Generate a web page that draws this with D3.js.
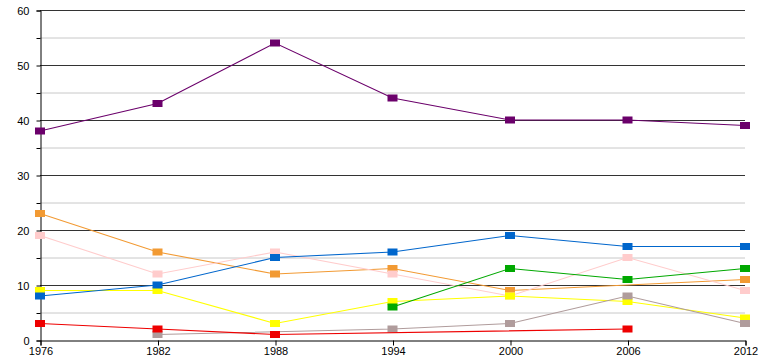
<!DOCTYPE html>
<html><head><meta charset="utf-8">
<script src="https://cdn.jsdelivr.net/npm/d3@7"></script>
<style>body{margin:0;background:#fff}svg{display:block}text{font-family:"Liberation Sans",Arial,sans-serif;font-size:11px;fill:#000}</style>
</head><body><svg id="c" width="760" height="360"></svg>
<script>
const years = ["1976","1982","1988","1994","2000","2006","2012"];
const yTicks = [0,10,20,30,40,50,60];
const purple = [38,43,54,44,40,40,39];
const orange = [23,16,12,13,9,null,11];
const pink   = [19,12,16,12,8,15,9];
const yellow = [9,9,3,7,8,7,4];
const blue   = [8,10,15,16,19,17,17];
const green  = [null,null,null,6,13,11,13];
const gray   = [null,1,null,2,3,8,3];
const red    = [3,2,1,null,null,2,null];
const seriesList = [
  {v:purple,c:"#6b006b"},
  {v:orange,c:"#f29a33"},
  {v:pink,c:"#ffcccc"},
  {v:yellow,c:"#ffff00"},
  {v:blue,c:"#0066cc"},
  {v:green,c:"#00a800"},
  {v:gray,c:"#b09c9c"},
  {v:red,c:"#ee0000"}
];
const svg = d3.select("#c");
const x = d3.scalePoint().domain(years).range([40,745]);
const y = d3.scaleLinear().domain([0,60]).range([340,10]);
// grid
const minor = d3.range(5,60,10);
svg.append("g").selectAll("line").data(minor).join("line")
  .attr("x1",40).attr("x2",745).attr("y1",d=>y(d)+0.5).attr("y2",d=>y(d)+0.5)
  .attr("stroke","#c8c8c8").attr("stroke-width",1);
svg.append("g").selectAll("line").data(yTicks.filter(d=>d>0)).join("line")
  .attr("x1",40).attr("x2",745).attr("y1",d=>y(d)+0.5).attr("y2",d=>y(d)+0.5)
  .attr("stroke","#333").attr("stroke-width",1);
// axes
const ya = svg.append("g").attr("transform","translate(40.5,0.5)")
  .call(d3.axisLeft(y).tickValues(d3.range(0,61,5)).tickSize(4).tickFormat(d=>d%10===0?d:""));
ya.select(".domain").attr("stroke","#000");
ya.selectAll(".tick text").attr("dx","-4");
const xa = svg.append("g").attr("transform","translate(0.5,340.5)")
  .call(d3.axisBottom(x).tickSize(5).tickPadding(2));
xa.select(".domain").attr("stroke","#000");
svg.selectAll(".tick text").style("font-family","Liberation Sans,Arial,sans-serif").style("font-size","11px").attr("fill","#000");
svg.selectAll(".tick line").attr("stroke","#000");
// series
seriesList.forEach(s=>{
  const pts = years.map((yr,i)=>({yr,v:s.v[i]})).filter(d=>d.v!==null);
  svg.append("path").datum(pts)
    .attr("fill","none").attr("stroke",s.c).attr("stroke-width",1.1)
    .attr("d",d3.line().x(d=>x(d.yr)).y(d=>y(d.v)));
  svg.append("g").selectAll("rect").data(pts).join("rect")
    .attr("x",d=>x(d.yr)-5).attr("y",d=>y(d.v)-3.5).attr("width",10).attr("height",7)
    .attr("fill",s.c);
});
</script></body></html>
